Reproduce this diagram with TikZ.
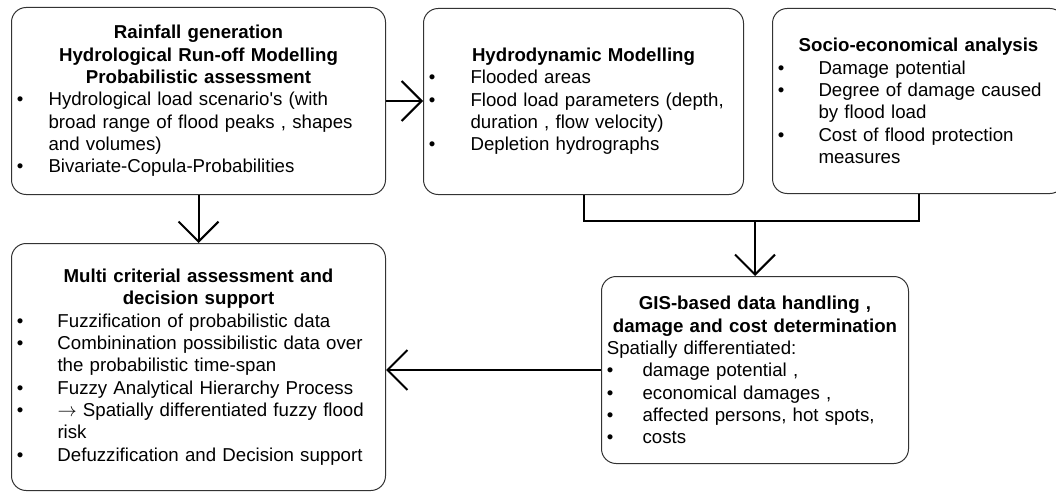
\documentclass[tikz,border=0pt]{standalone}
\usepackage{fontspec}
\setmainfont{Liberation Sans}
\usetikzlibrary{arrows.meta}
\newlength{\bulw}
\newcommand{\bul}{\makebox[\bulw][l]{\textbullet}}
\newcommand{\bulcont}{\hspace*{\bulw}}

\begin{document}
\begin{tikzpicture}[x=0.75pt,y=-0.75pt,
  box/.style={draw=black!80,line width=0.75pt,rounded corners=11pt,anchor=north west,
    inner xsep=4pt,inner ysep=3pt,align=left,font=\fontsize{14pt}{16.75pt}\selectfont},
  bulw/.style={execute at begin node={\setlength{\bulw}{#1}}},
  link/.style={line width=1.5pt},
  flow/.style={link,-{Straight Barb[length=15pt,width=30pt]}}]
  \useasboundingbox (0,0) rectangle (1056,492);
  \node[box,bulw=23.8pt,text width=272.5pt,minimum height=140.25pt] (rain) at (11,7)
    {{\centering\bfseries Rainfall generation\\Hydrological Run-off Modelling\\Probabilistic assessment\par}
     \bul Hydrological load scenario\textquotesingle s (with\\
     \bulcont broad range of flood peaks , shapes\\
     \bulcont and volumes)\\
     \bul Bivariate-Copula-Probabilities};
  \node[box,bulw=31.3pt,text width=232pt,minimum height=139.5pt] (hydro) at (423,8)
    {{\centering\bfseries Hydrodynamic Modelling\par}
     \bul Flooded areas\\
     \bul Flood load parameters (depth,\\
     \bulcont duration , flow velocity)\\
     \bul Depletion hydrographs};
  \node[box,bulw=30.5pt,text width=211pt,minimum height=138.75pt] (socio) at (772,8)
    {{\centering\bfseries Socio-economical analysis\par}
     \bul Damage potential\\
     \bul Degree of damage caused\\
     \bulcont by flood load\\
     \bul Cost of flood protection\\
     \bulcont measures};
  \node[box,bulw=30.5pt,text width=272.5pt,minimum height=185.25pt] (multi) at (11,243)
    {{\centering\bfseries Multi criterial assessment and\\decision support\par}
     \bul Fuzzification of probabilistic data\\
     \bul Combinination possibilistic data over\\
     \bulcont the probabilistic time-span\\
     \bul Fuzzy Analytical Hierarchy Process\\
     \bul $\rightarrow$ Spatially differentiated fuzzy flood\\
     \bulcont risk\\
     \bul Defuzzification and Decision support};
  \node[box,bulw=26.8pt,text width=222.25pt,minimum height=140.25pt] (gis) at (601,276)
    {{\centering\bfseries GIS-based data handling ,\\damage and cost determination\par}
     Spatially differentiated:\\
     \bul damage potential ,\\
     \bul economical damages ,\\
     \bul affected persons, hot spots,\\
     \bul costs};
  \coordinate (bus) at (gis.north |- 0,221);
  \draw[flow] (rain.east) -- (rain.east -| hydro.west);
  \draw[flow] (rain.south) -- (multi.north);
  \draw[link] (hydro.south) |- (bus) -| (socio.south);
  \draw[flow] (bus) -- (gis.north);
  \draw[flow] (gis.west) -- (gis.west -| multi.east);
\end{tikzpicture}
\end{document}
